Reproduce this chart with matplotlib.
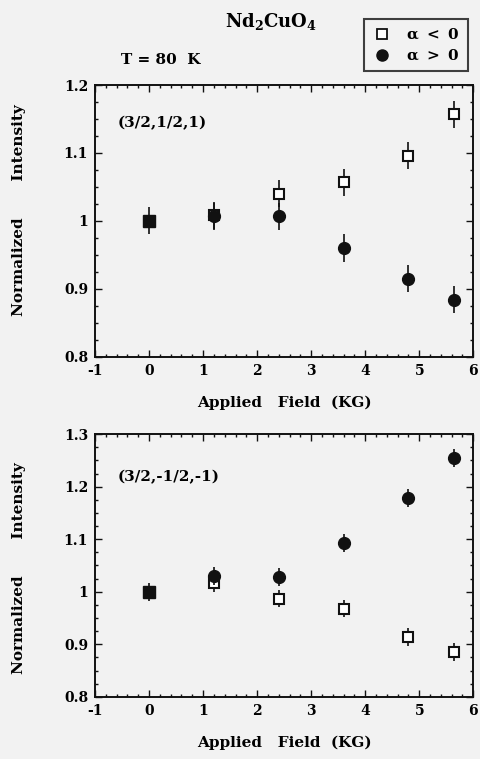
import matplotlib
matplotlib.use("Agg")
import matplotlib.pyplot as plt
from matplotlib.ticker import MultipleLocator
from matplotlib.lines import Line2D

# applied field (KG)
field = [1.2, 2.4, 3.6, 4.8, 5.65]
ref_field = [0.0]
ref_val = [1.0]

# (3/2,1/2,1)
top_neg = [1.008, 1.040, 1.057, 1.096, 1.157]
top_pos = [1.007, 1.007, 0.960, 0.915, 0.884]
top_err = [0.02, 0.02, 0.02, 0.02, 0.02]

# (3/2,-1/2,-1)
bot_neg = [1.017, 0.987, 0.968, 0.913, 0.886]
bot_pos = [1.030, 1.028, 1.092, 1.178, 1.255]
bot_err = [0.017, 0.017, 0.017, 0.017, 0.017]

xticks = [-1, 0, 1, 2, 3, 4, 5, 6]

plt.rcParams["font.family"] = ["DejaVu Serif"]
plt.rcParams["font.weight"] = "bold"
plt.rcParams["mathtext.fontset"] = "dejavuserif"
bg = "#f2f2f2"
ink = "#111111"

fig = plt.figure(figsize=(4.8, 7.59), dpi=100, facecolor=bg)
ax1 = fig.add_axes([0.198, 0.530, 0.788, 0.358], facecolor=bg)
ax2 = fig.add_axes([0.198, 0.082, 0.788, 0.346], facecolor=bg)


def style(ax, ylim, yticks, ylabels, label, label_y, ylab_y):
    ax.set_xlim(-1, 6)
    ax.set_ylim(*ylim)
    ax.set_xticks(xticks)
    ax.set_xticklabels([str(t) for t in xticks], fontsize=10, fontweight="bold")
    ax.set_yticks(yticks)
    ax.set_yticklabels(ylabels, fontsize=10, fontweight="bold")
    ax.xaxis.set_minor_locator(MultipleLocator(0.2))
    ax.yaxis.set_minor_locator(MultipleLocator(0.025))
    ax.tick_params(which="both", direction="in", top=True, right=True, width=1.0, color=ink)
    ax.tick_params(which="major", length=5, pad=5)
    ax.tick_params(which="minor", length=2.5)
    for s in ax.spines.values():
        s.set_linewidth(1.4)
        s.set_color(ink)
    ax.set_xlabel("Applied   Field  (KG)", fontsize=11, fontweight="bold", labelpad=13)
    ax.text(-0.20, ylab_y, "Normalized       Intensity", transform=ax.transAxes,
            rotation=90, fontsize=11, fontweight="bold", ha="center", va="center")
    ax.text(0.06, label_y, label, transform=ax.transAxes,
            fontsize=11, fontweight="bold", va="center")


def draw(ax, neg, pos, err):
    ax.errorbar(ref_field, ref_val, yerr=[err[0]], fmt="s", color=ink, ms=8.5,
                elinewidth=1.2, capsize=0, zorder=3)
    ax.errorbar(field, neg, yerr=err, fmt="s", mfc="white", mec=ink, mew=1.5,
                ms=7.5, ecolor=ink, elinewidth=1.2, capsize=0, zorder=3)
    ax.errorbar(field, pos, yerr=err, fmt="o", color=ink, ms=8.5,
                elinewidth=1.2, capsize=0, zorder=4)


draw(ax1, top_neg, top_pos, top_err)
style(ax1, (0.8, 1.2), [0.8, 0.9, 1.0, 1.1, 1.2], ["0.8", "0.9", "1", "1.1", "1.2"],
      "(3/2,1/2,1)", 0.86, 0.54)
draw(ax2, bot_neg, bot_pos, bot_err)
style(ax2, (0.8, 1.3), [0.8, 0.9, 1.0, 1.1, 1.2, 1.3], ["0.8", "0.9", "1", "1.1", "1.2", "1.3"],
      "(3/2,-1/2,-1)", 0.835, 0.49)

fig.text(0.565, 0.972, "Nd$_\\mathbf{2}$CuO$_\\mathbf{4}$", fontsize=13, fontweight="bold",
         ha="center", va="center")
fig.text(0.335, 0.921, "T = 80  K", fontsize=11, fontweight="bold", ha="center", va="center")

handles = [
    Line2D([], [], ls="none", marker="s", mfc="white", mec=ink, mew=1.3, ms=6.5),
    Line2D([], [], ls="none", marker="o", color=ink, ms=8),
]
leg = fig.legend(handles, ["$\\mathbf{\\alpha\\ <\\ 0}$", "$\\mathbf{\\alpha\\ >\\ 0}$"],
                 loc="upper right", bbox_to_anchor=(0.99, 0.985), fontsize=11,
                 frameon=True, fancybox=False, edgecolor=ink, facecolor=bg,
                 handletextpad=0.9, borderpad=0.55, labelspacing=0.4, handlelength=1.3)
leg.get_frame().set_linewidth(1.5)

fig.savefig("out.png", dpi=100, facecolor=bg)
